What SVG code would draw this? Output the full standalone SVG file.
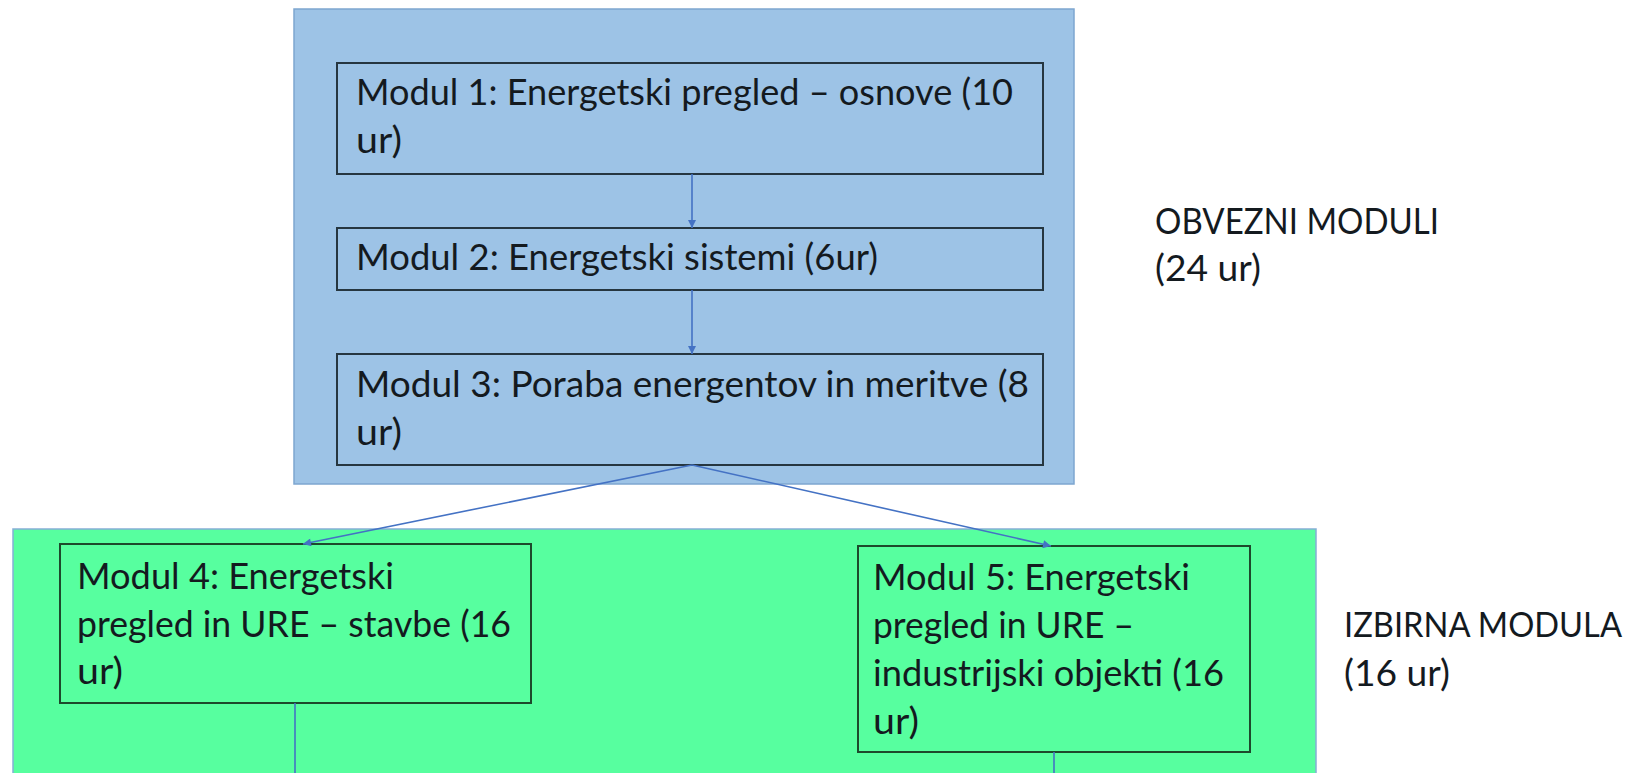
<svg xmlns="http://www.w3.org/2000/svg" width="1636" height="773" viewBox="0 0 1636 773">
  <style>
    .txt { font-family: Lato, "Open Sans", sans-serif; font-size: 36px; fill: #141a1f; }
    .edge { font-size: 34px; }
    .box { stroke: #263640; stroke-width: 2; }
    .blue { fill: #9dc3e6; }
    .green { fill: #57ff9f; }
    .gbox { stroke: #1d4a2c; stroke-width: 2; }
    .conn { stroke: #4472c4; stroke-width: 1.6; fill: none; }
  </style>
  <defs>
    <marker id="arrow" viewBox="0 0 10 10" refX="10" refY="5" markerWidth="9" markerHeight="8" markerUnits="userSpaceOnUse" orient="auto">
      <path d="M0,0 L10,5 L0,10 z" fill="#4472c4"/>
    </marker>
  </defs>

  <rect width="1636" height="773" fill="#ffffff"/>

  <!-- mandatory modules container -->
  <g id="obvezni">
    <rect x="294" y="9" width="780" height="475" class="blue" stroke="#7ea6d0" stroke-width="1.5"/>
  </g>

  <!-- elective modules container -->
  <g id="izbirni">
    <rect x="13" y="529" width="1303" height="270" class="green" stroke="#86aed6" stroke-width="1.5"/>
  </g>

  <g id="modul1">
    <rect x="337" y="63" width="706" height="111" class="blue box"/>
    <text class="txt" x="356" y="105" textLength="657" lengthAdjust="spacingAndGlyphs">Modul 1: Energetski pregled – osnove (10</text>
    <text class="txt" x="356" y="153" textLength="46" lengthAdjust="spacingAndGlyphs">ur)</text>
  </g>

  <g id="modul2">
    <rect x="337" y="228" width="706" height="62" class="blue box"/>
    <text class="txt" x="356" y="270" textLength="522" lengthAdjust="spacingAndGlyphs">Modul 2: Energetski sistemi (6ur)</text>
  </g>

  <g id="modul3">
    <rect x="337" y="354" width="706" height="111" class="blue box"/>
    <text class="txt" x="356" y="397" textLength="673" lengthAdjust="spacingAndGlyphs">Modul 3: Poraba energentov in meritve (8</text>
    <text class="txt" x="356" y="445" textLength="46" lengthAdjust="spacingAndGlyphs">ur)</text>
  </g>

  <g id="modul4">
    <rect x="60" y="544" width="471" height="159" class="green gbox"/>
    <text class="txt" x="77" y="589" textLength="317" lengthAdjust="spacingAndGlyphs">Modul 4: Energetski</text>
    <text class="txt" x="77" y="637" textLength="434" lengthAdjust="spacingAndGlyphs">pregled in URE – stavbe (16</text>
    <text class="txt" x="77" y="684" textLength="46" lengthAdjust="spacingAndGlyphs">ur)</text>
  </g>

  <g id="modul5">
    <rect x="858" y="546" width="392" height="206" class="green gbox"/>
    <text class="txt" x="873" y="590" textLength="317" lengthAdjust="spacingAndGlyphs">Modul 5: Energetski</text>
    <text class="txt" x="873" y="638" textLength="261" lengthAdjust="spacingAndGlyphs">pregled in URE –</text>
    <text class="txt" x="873" y="686" textLength="351" lengthAdjust="spacingAndGlyphs">industrijski objekti (16</text>
    <text class="txt" x="873" y="734" textLength="46" lengthAdjust="spacingAndGlyphs">ur)</text>
  </g>

  <g id="label-obvezni">
    <text class="txt" x="1155" y="234" textLength="284" lengthAdjust="spacingAndGlyphs">OBVEZNI MODULI</text>
    <text class="txt" x="1155" y="281" textLength="106" lengthAdjust="spacingAndGlyphs">(24 ur)</text>
  </g>

  <g id="label-izbirni">
    <text class="txt edge" x="1344" y="637" textLength="278" lengthAdjust="spacingAndGlyphs">IZBIRNA MODULA</text>
    <text class="txt" x="1344" y="686" textLength="106" lengthAdjust="spacingAndGlyphs">(16 ur)</text>
  </g>

  <g id="connectors">
    <line class="conn" x1="692" y1="174" x2="692" y2="228" marker-end="url(#arrow)"/>
    <line class="conn" x1="692" y1="290" x2="692" y2="354" marker-end="url(#arrow)"/>
    <line class="conn" x1="692" y1="465" x2="303" y2="544" marker-end="url(#arrow)"/>
    <line class="conn" x1="692" y1="465" x2="1051" y2="546" marker-end="url(#arrow)"/>
    <line class="conn" x1="295" y1="703" x2="295" y2="773"/>
    <line class="conn" x1="1054" y1="752" x2="1054" y2="773"/>
  </g>
</svg>
